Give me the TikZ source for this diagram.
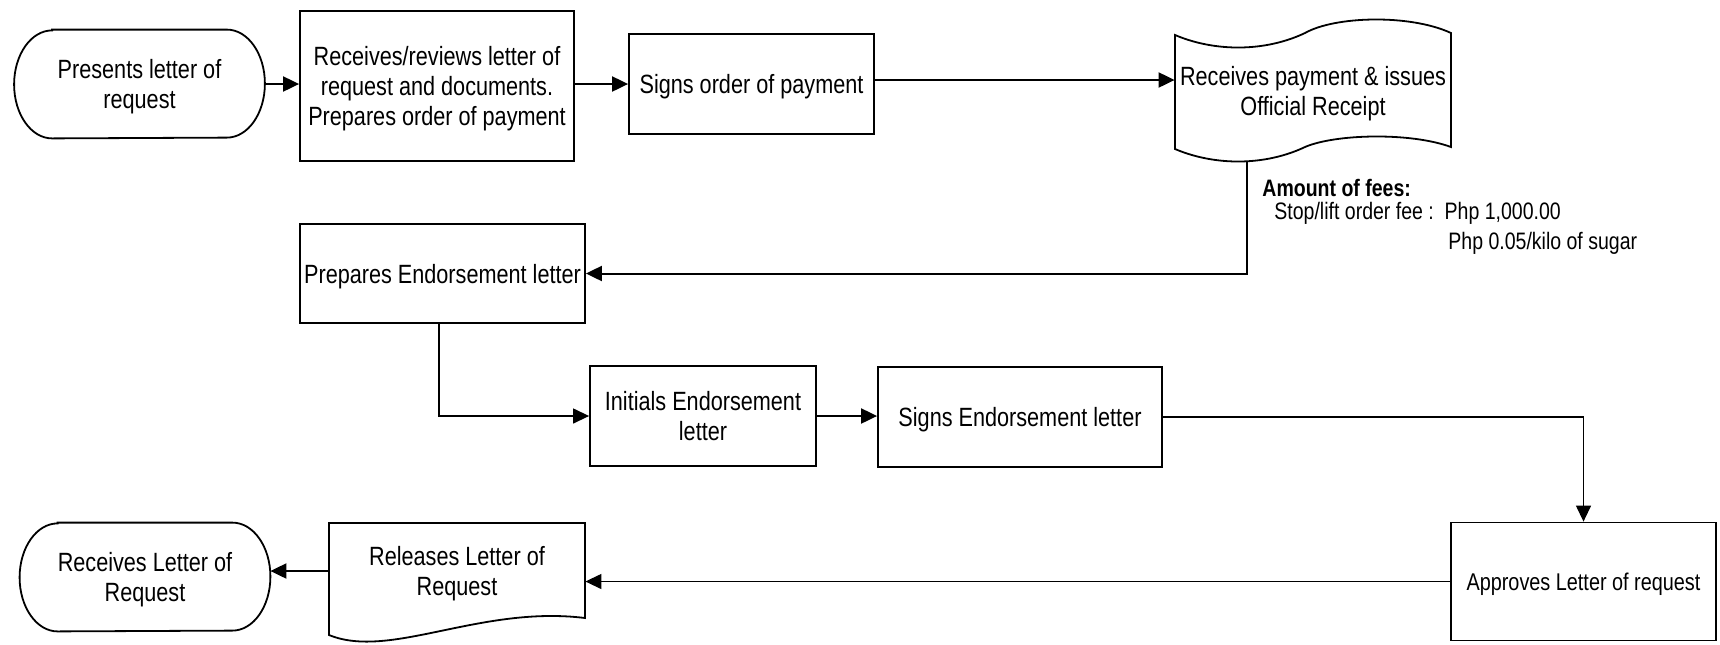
\documentclass[tikz,border=0pt]{standalone}
\usepackage{fontspec}
\setmainfont{Liberation Sans}[FakeStretch=0.82]
\usetikzlibrary{arrows.meta}
\newcommand\flowfont{\fontsize{13.2}{15}\selectfont}
\newcommand\feefont{\fontsize{11.9}{14}\selectfont}

\begin{document}
\begin{tikzpicture}[x=0.5pt,y=-0.5pt,
    box/.style={draw,line width=0.9pt,align=center,font=\flowfont,inner sep=1pt,text depth=0pt},
    term/.style={align=center,font=\flowfont,minimum width=125pt,minimum height=54pt,text depth=0pt},
    paper/.style={align=center,font=\flowfont,inner sep=1pt,text depth=0pt},
    outline/.style={line width=0.9pt},
    link/.style={-{Triangle[length=8pt,width=7.5pt]},line width=1pt},
    farlink/.style={link,line width=0.65pt},
    fee/.style={anchor=base west,font=\feefont,inner sep=0pt}]
  \useasboundingbox (0,0) rectangle (1720,644);

  % first row
  \node[term] (present) at (139.5,84) {Presents letter of\\request};
  \node[box,minimum width=137pt,minimum height=75pt] (review) at (437,86) {Receives/reviews letter of\\request and documents.\\Prepares order of payment};
  \node[box,minimum width=122.5pt,minimum height=50pt] (signpay) at (751.5,84) {Signs order of payment};
  \node[paper,minimum width=138pt,minimum height=56pt] (payment) at (1313,91) {Receives payment \& issues\\Official Receipt};
  \coordinate (paytail) at (1247,161);

  % fees
  \node[fee] (feetitle) at (1262,196) {\bfseries Amount of fees:};
  \node[fee] (feestop) at (1274,219) {Stop/lift order fee :\ \ Php 1,000.00};
  \node[fee] (feesugar) at (1448,249) {Php 0.05/kilo of sugar};

  % second and third row
  \node[box,minimum width=142.5pt,minimum height=49.5pt] (prepare) at (442.5,273.5) {Prepares Endorsement letter};
  \node[box,minimum width=113pt,minimum height=50pt] (initial) at (703,416) {Initials Endorsement\\letter};
  \node[box,minimum width=142pt,minimum height=50pt] (signend) at (1020,417) {Signs Endorsement letter};

  % last row
  \node[box,minimum width=132.5pt,minimum height=59pt,font=\fontsize{12.1}{14}\selectfont] (approve) at (1583.5,581.5) {Approves Letter of request};
  \node[paper,minimum width=128pt,minimum height=48pt] (release) at (457,571) {Releases Letter of\\Request};
  \node[term] (receive) at (145,577) {Receives Letter of\\Request};

  % outlines
  \foreach \t in {present,receive}
    \draw[outline] ([xshift=19pt]\t.north west) -- ([xshift=-19pt]\t.north east)
      arc[start angle=90,end angle=-90,x radius=19pt,y radius=27pt]
      -- ([xshift=19pt]\t.south west)
      arc[start angle=270,end angle=90,x radius=19pt,y radius=27pt] -- cycle;
  \begin{scope}[shift={(payment.center)}]
    \draw[outline] (-138,-56) .. controls (-98,-39) and (-48,-39) .. (-8,-58)
      .. controls (22,-75) and (97,-77) .. (138,-58) -- (138,56)
      .. controls (97,41) and (22,43) .. (-8,56)
      .. controls (-48,75) and (-98,75) .. (-138,58) -- cycle;
  \end{scope}
  \begin{scope}[shift={(release.center)}]
    \draw[outline] (-128,64) -- (-128,-48) -- (128,-48) -- (128,47)
      .. controls (23,34) and (-67,89) .. (-128,64) -- cycle;
  \end{scope}

  % connectors
  \draw[link] (present.east) -- (present.east -| review.west);
  \draw[link] (review.east |- signpay.west) -- (signpay.west);
  \draw[link] ([yshift=2pt]signpay.east) -- ([yshift=2pt]signpay.east -| payment.west);
  \draw[link] (paytail) |- (prepare.east);
  \draw[farlink] ([xshift=-1.75pt]prepare.south) |- (initial.west);
  \draw[link] (initial.east) -- (initial.east -| signend.west);
  \draw[farlink] (signend.east) -| (approve.north);
  \draw[farlink] (approve.west) -- (approve.west -| release.east);
  \draw[link] (release.west) -- (release.west -| receive.east);
\end{tikzpicture}
\end{document}
